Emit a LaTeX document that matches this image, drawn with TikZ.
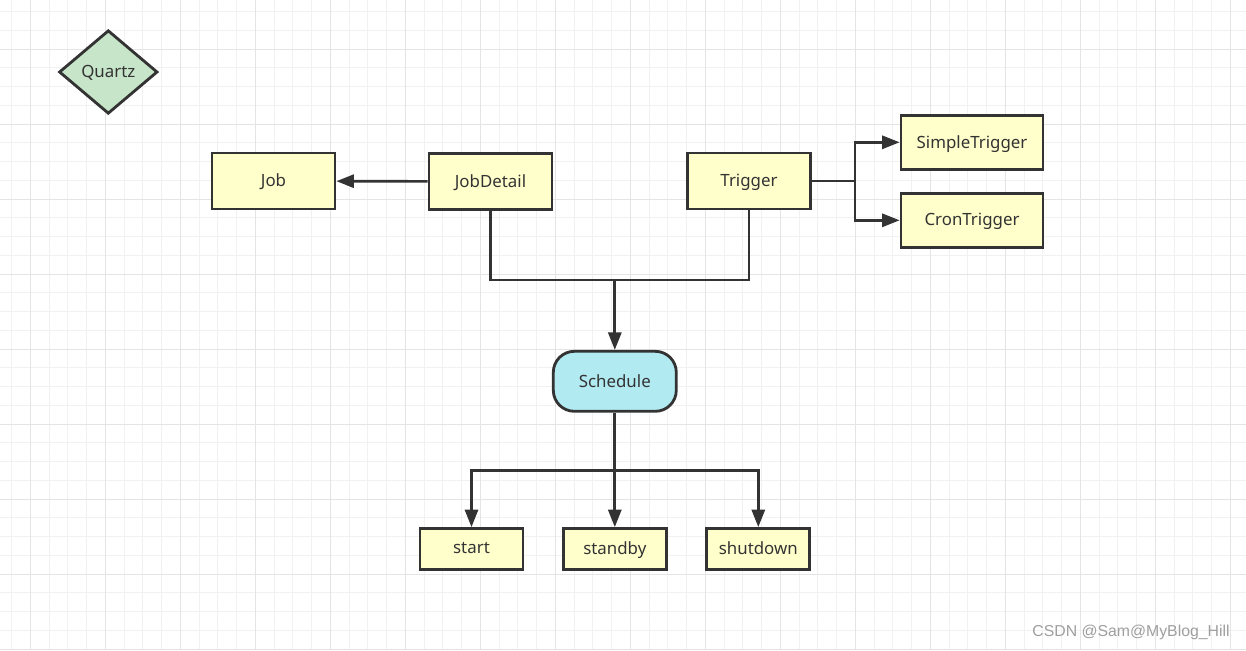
\documentclass[tikz,border=0pt]{standalone}
\usepackage{fontspec}
\setmainfont{Noto Sans}
\newfontfamily\markfont{Liberation Sans}
\usetikzlibrary{arrows.meta, positioning, calc, shapes.geometric}

\definecolor{boxyellow}{HTML}{FFFFCC}
\definecolor{boxgreen}{HTML}{C6E5C9}
\definecolor{boxcyan}{HTML}{B2EAF2}
\definecolor{linegray}{HTML}{333333}
\definecolor{gridminor}{HTML}{F1F1F1}
\definecolor{gridmajor}{HTML}{E4E4E4}

\begin{document}
\begin{tikzpicture}[
x=0.02cm, y=-0.02cm,
font=\fontsize{9.6}{11}\selectfont,
>={Triangle[length=10pt,width=7.5pt]},
box/.style={
draw=linegray,
line width=1.6pt,
fill=#1,
text=linegray,
minimum width=2.46cm,
minimum height=1.12cm,
text depth=0.15ex,
align=center
},
wide/.style={box=boxyellow, minimum width=2.84cm, minimum height=1.08cm},
state/.style={box=boxyellow, minimum width=2.06cm, minimum height=0.82cm},
flow/.style={->, draw=linegray, line width=1.5pt},
link/.style={draw=linegray, line width=1.5pt},
minor/.style={draw=gridminor, line width=0.6pt},
major/.style={draw=gridmajor, line width=0.6pt}
]

\useasboundingbox (0,0) rectangle (1246,650);
\fill[white] (0,0) rectangle (1246,650);

% Grid
\foreach \k in {0,...,66}
  \draw[minor] ({11.7+18.75*\k},0) -- ++(0,650);
\foreach \k in {0,...,34}
  \draw[minor] (0,{11.7+18.75*\k}) -- ++(1246,0);
\foreach \k in {0,...,16}
  \draw[major] ({30.45+75*\k},0) -- ++(0,650);
\foreach \k in {0,...,8}
  \draw[major] (0,{49.2+75*\k}) -- ++(1246,0);

% Nodes
\node[box=boxgreen, shape=diamond, inner sep=0pt, minimum width=1.97cm, minimum height=1.67cm] (quartz) at (108.3,72) {Quartz};
\node[box=boxyellow] (job) at (273.5,181) {Job};
\node[box=boxyellow] (jobdetail) at (490.5,181.5) {JobDetail};
\node[box=boxyellow] (trigger) at (749,181) {Trigger};
\node[wide] (simple) at (972,142.3) {SimpleTrigger};
\node[wide] (cron) at (972,220.3) {CronTrigger};
\node[box=boxcyan, rounded corners=0.42cm, minimum height=1.2cm] (schedule) at (614.8,381.3) {Schedule};
\node[state] (start) at (471.5,549) {start};
\node[state] (standby) at (614.8,549) {standby};
\node[state] (shutdown) at (758.3,549) {shutdown};

% JobDetail -> Job
\draw[flow] (jobdetail) -- (job);

% Trigger -> Simple / Cron
\coordinate (fork) at (855,181);
\draw[link] (trigger.east) -- (fork);
\draw[flow] (fork) |- (simple.west);
\draw[flow] (fork) |- (cron.west);

% JobDetail + Trigger -> Schedule
\coordinate (join) at (614.8,280);
\draw[link] (jobdetail.south) |- (join) -| (trigger.south);
\draw[flow] (join) -- (schedule.north);

% Schedule -> states
\coordinate (split) at (614.8,470.7);
\draw[link] (schedule.south) -- (split);
\draw[flow] (split) -| (start.north);
\draw[flow] (split) -- (standby.north);
\draw[flow] (split) -| (shutdown.north);

% Watermark
\node[text=gray!75, font=\markfont\fontsize{9}{11}\selectfont] (mark) at (1131,632) {CSDN @Sam@MyBlog\_Hill};

\end{tikzpicture}
\end{document}
